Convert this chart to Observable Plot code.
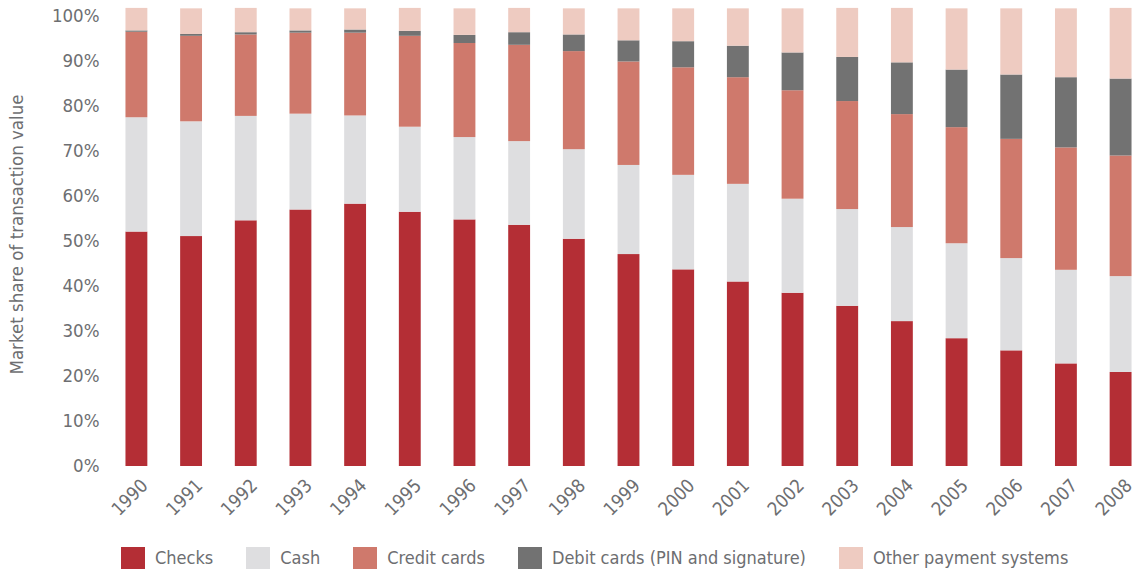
<!DOCTYPE html>
<html>
<head>
<meta charset="utf-8">
<script src="https://cdn.jsdelivr.net/npm/d3@7"></script>
<script src="https://cdn.jsdelivr.net/npm/@observablehq/plot@0.6"></script>
<style>
  html, body { margin: 0; padding: 0; background: #fff; }
  body { width: 1144px; height: 572px; overflow: hidden;
         font-family: "DejaVu Sans Condensed", "Liberation Sans Narrow", sans-serif; }
  #chart svg { display: block; }
  #legend { display: flex; align-items: center; margin-left: 121px; margin-top: 17px;
            font-size: 18px; line-height: 22px; color: #6d6e71; white-space: nowrap; }
  .item { display: flex; align-items: center; margin-right: 33px; }
  .sw { width: 24px; height: 22px; margin-right: 10px; flex: none; }
</style>
</head>
<body>
<div id="chart"></div>
<div id="legend"></div>
<script>
const years = ["1990","1991","1992","1993","1994","1995","1996","1997","1998","1999","2000","2001","2002","2003","2004","2005","2006","2007","2008"];
const seriesNames = ["Checks", "Cash", "Credit cards", "Debit cards (PIN and signature)", "Other payment systems"];
const seriesColors = ["#b42e35", "#dedee0", "#cf796c", "#727272", "#eecbc1"];
const checks = [52.1, 51.1, 54.6, 57.0, 58.3, 56.5, 54.8, 53.6, 50.5, 47.1, 43.7, 41.0, 38.5, 35.6, 32.2, 28.4, 25.7, 22.8, 20.9];
const cash   = [25.4, 25.5, 23.2, 21.3, 19.6, 18.9, 18.3, 18.6, 19.9, 19.8, 21.0, 21.7, 20.9, 21.5, 20.9, 21.1, 20.5, 20.8, 21.3];
const credit = [19.0, 19.0, 18.1, 18.0, 18.4, 20.2, 20.9, 21.4, 21.8, 23.0, 23.9, 23.7, 24.1, 24.0, 25.1, 25.8, 26.5, 27.2, 26.8];
const debit  = [0.3, 0.4, 0.5, 0.5, 0.7, 1.1, 1.8, 2.8, 3.7, 4.7, 5.8, 7.0, 8.4, 9.8, 11.5, 12.8, 14.3, 15.6, 17.1];
const other  = [5.0, 5.7, 5.4, 4.9, 4.7, 5.1, 5.9, 5.4, 5.8, 7.1, 7.3, 8.3, 9.8, 10.9, 12.1, 13.6, 14.7, 15.3, 15.7];
const yTicks = [0, 10, 20, 30, 40, 50, 60, 70, 80, 90, 100];
const yTitle = "Market share of transaction value";

const seriesValues = [checks, cash, credit, debit, other];
const data = [];
years.forEach((yr, i) => {
  seriesNames.forEach((s, j) => data.push({year: yr, series: s, value: seriesValues[j][i]}));
});

const font = '"DejaVu Sans Condensed", "Liberation Sans Narrow", sans-serif';

const chart = Plot.plot({
  width: 1144,
  height: 530,
  marginTop: 16,
  marginBottom: 64,
  marginLeft: 120,
  marginRight: 7,
  style: {fontFamily: font, fontSize: "18.5px", color: "#6d6e71", background: "#fff"},
  x: {domain: years, paddingInner: 0.6, paddingOuter: 0.1, round: false},
  y: {domain: [0, 100]},
  color: {domain: seriesNames, range: seriesColors},
  marks: [
    Plot.barY(data, {x: "year", y: "value", fill: "series", order: seriesNames}),
    Plot.axisY({ticks: yTicks, tickFormat: d => d + "%", tickSize: 0, tickPadding: 21,
      label: null, fontSize: 18.5}),
    Plot.text([yTitle], {frameAnchor: "left", textAnchor: "middle", rotate: -90, dx: -103, dy: -7,
      fontSize: 18.5, fill: "#6d6e71"}),
    Plot.axisX({tickSize: 0, tickRotate: -45, tickPadding: 16, dx: 8, label: null, fontSize: 18.5})
  ]
});
document.getElementById("chart").appendChild(chart);

const legend = document.getElementById("legend");
seriesNames.forEach((s, j) => {
  const it = document.createElement("div");
  it.className = "item";
  const sw = document.createElement("div");
  sw.className = "sw";
  sw.style.background = seriesColors[j];
  const lb = document.createElement("span");
  lb.textContent = s;
  it.appendChild(sw); it.appendChild(lb);
  legend.appendChild(it);
});
</script>
</body>
</html>
